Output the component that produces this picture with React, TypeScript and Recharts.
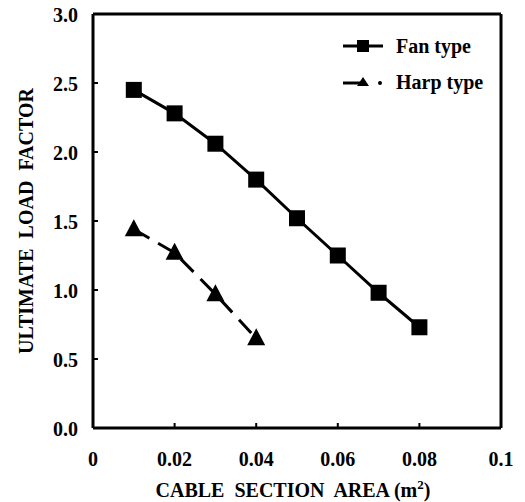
import React from "react";
import { LineChart, Line, XAxis, YAxis, ReferenceLine, Label } from "recharts";

const fanX = [0.01, 0.02, 0.03, 0.04, 0.05, 0.06, 0.07, 0.08];
const fanY = [2.45, 2.28, 2.06, 1.8, 1.52, 1.25, 0.98, 0.73];
const harpX = [0.01, 0.02, 0.03, 0.04];
const harpY = [1.44, 1.27, 0.97, 0.65];
const xTicks = [0, 0.02, 0.04, 0.06, 0.08, 0.1];
const yTicks = [0, 0.5, 1.0, 1.5, 2.0, 2.5, 3.0];
const seriesNames = ["Fan type", "Harp type"];
const xTitle = "CABLE\u00A0 SECTION\u00A0 AREA (m";
const yTitle = "ULTIMATE\u00A0 LOAD\u00A0 FACTOR";

const fanData = fanX.map((x, i) => ({ x, y: fanY[i] }));
const harpData = harpX.map((x, i) => ({ x, y: harpY[i] }));

const FONT = "'Liberation Serif', 'Times New Roman', serif";

const fmtX = (v: number) => (v === 0 ? "0" : v === 0.1 ? "0.1" : v.toFixed(2));

const XTick = (props: any) => {
  const { x, y, payload } = props;
  return (
    <g>
      <line x1={x} y1={y} x2={x} y2={y - 5} stroke="#000" strokeWidth={2} />
      <text x={x} y={y + 38} textAnchor="middle" style={{ fontFamily: FONT, fontWeight: 700, fontSize: 20 }} fill="#000">
        {fmtX(payload.value)}
      </text>
    </g>
  );
};

const YTick = (props: any) => {
  const { x, y, payload } = props;
  return (
    <g>
      <line x1={x} y1={y} x2={x + 5} y2={y} stroke="#000" strokeWidth={2} />
      <text x={x - 15} y={y + 8} textAnchor="end" style={{ fontFamily: FONT, fontWeight: 700, fontSize: 20 }} fill="#000">
        {payload.value.toFixed(1)}
      </text>
    </g>
  );
};

const Square = (props: any) => {
  const { cx, cy } = props;
  if (cx == null || cy == null) return null;
  return <rect x={cx - 8} y={cy - 8} width={16} height={16} fill="#000" />;
};

const Tri = (props: any) => {
  const { cx, cy } = props;
  if (cx == null || cy == null) return null;
  return <polygon points={`${cx},${cy - 10} ${cx - 9},${cy + 7} ${cx + 9},${cy + 7}`} fill="#000" />;
};

const XTitle = (props: any) => {
  const vb = props.viewBox;
  const cx = vb.x + vb.width / 2;
  return (
    <text x={cx - 4} y={vb.y + 69} textAnchor="middle" style={{ fontFamily: FONT, fontWeight: 700, fontSize: 20 }} fill="#000">
      {xTitle}
      <tspan dy={-8} style={{ fontSize: 13 }}>2</tspan>
      <tspan dy={8}>)</tspan>
    </text>
  );
};

const YTitle = (props: any) => {
  const vb = props.viewBox;
  const cy = vb.y + vb.height / 2;
  const x = 33;
  return (
    <text
      x={x}
      y={cy}
      transform={`rotate(-90, ${x}, ${cy})`}
      textAnchor="middle"
      style={{ fontFamily: FONT, fontWeight: 700, fontSize: 20 }}
      fill="#000"
    >
      {yTitle}
    </text>
  );
};

const legendText: React.CSSProperties = {
  position: "absolute",
  left: 396,
  fontFamily: FONT,
  fontWeight: 700,
  fontSize: 20,
  lineHeight: "20px",
  color: "#000",
  whiteSpace: "nowrap",
};

export default function App() {
  return (
    <div style={{ position: "absolute", left: 0, top: 0, width: 525, height: 502, background: "#fff" }}>
      <LineChart width={525} height={502} margin={{ top: 14, right: 24, bottom: 0, left: 0 }}>
        <XAxis
          dataKey="x"
          type="number"
          domain={[0, 0.1]}
          ticks={xTicks}
          allowDuplicatedCategory={false}
          height={74}
          tickSize={0}
          tickMargin={0}
          tickLine={false}
          axisLine={{ stroke: "#000", strokeWidth: 3 }}
          tick={<XTick />}
          interval={0}
        >
          <Label content={<XTitle />} />
        </XAxis>
        <YAxis
          type="number"
          domain={[0, 3]}
          ticks={yTicks}
          width={93}
          tickSize={0}
          tickMargin={0}
          tickLine={false}
          axisLine={{ stroke: "#000", strokeWidth: 3 }}
          tick={<YTick />}
          interval={0}
        >
          <Label content={<YTitle />} />
        </YAxis>
        <ReferenceLine y={3} stroke="#000" strokeWidth={3} />
        <ReferenceLine x={0.1} stroke="#000" strokeWidth={3} />
        <Line
          data={fanData}
          dataKey="y"
          name={seriesNames[0]}
          stroke="#000"
          strokeWidth={3}
          dot={<Square />}
          activeDot={false}
          isAnimationActive={false}
        />
        <Line
          data={harpData}
          dataKey="y"
          name={seriesNames[1]}
          stroke="#000"
          strokeWidth={3}
          strokeDasharray="18 10"
          dot={<Tri />}
          activeDot={false}
          isAnimationActive={false}
        />
      </LineChart>
      <svg style={{ position: "absolute", left: 0, top: 0 }} width={525} height={502} pointerEvents="none">
        <line x1={343} y1={46} x2={383} y2={46} stroke="#000" strokeWidth={3} />
        <rect x={357} y={40} width={12} height={12} fill="#000" />
        <line x1={343} y1={83} x2={362} y2={83} stroke="#000" strokeWidth={3} />
        <polygon points="363,77 357,86 369,86" fill="#000" />
        <circle cx={380} cy={83} r={2} fill="#000" />
      </svg>
      <div style={{ ...legendText, top: 36 }}>{seriesNames[0]}</div>
      <div style={{ ...legendText, top: 72 }}>{seriesNames[1]}</div>
    </div>
  );
}
